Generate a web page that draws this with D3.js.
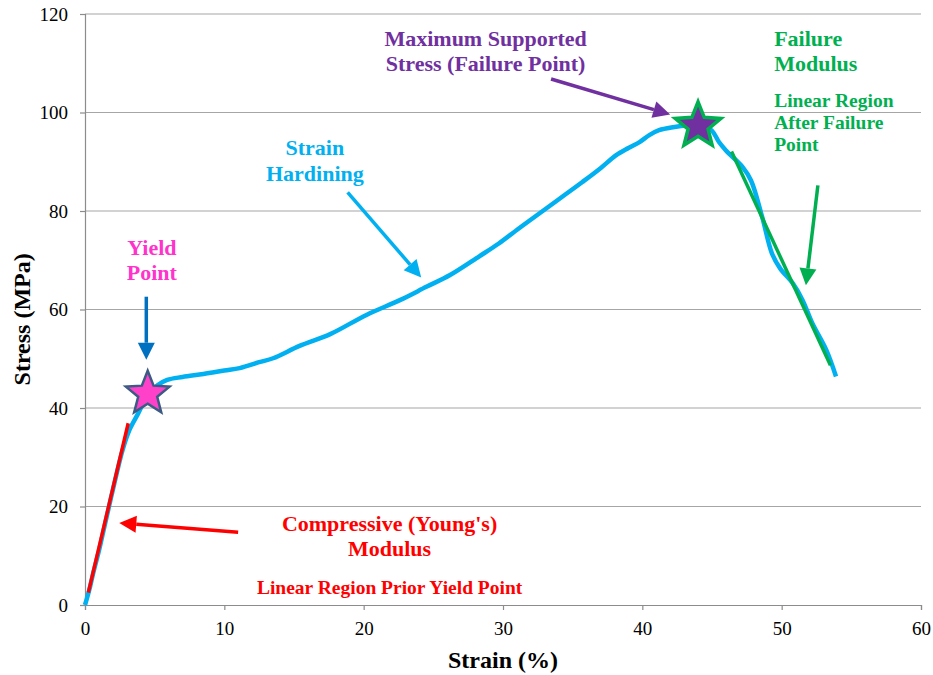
<!DOCTYPE html>
<meta charset="utf-8">

<head>
  <title>stress-strain</title>
</head>

<style>
  body { margin: 0; background: #fff; }
  svg text { font-family: "Liberation Serif", "Times New Roman", Times, serif; }
</style>

<body>
  <div id="content">
    <svg width="933" height="675"></svg>
  </div>

  <script src="https://cdnjs.cloudflare.com/ajax/libs/d3/7.8.5/d3.min.js"></script>

  <script>
    // measured curve (strain %, stress MPa)
    var strain = [0, 0.3, 0.6, 1.0, 1.4, 2.0, 2.7, 3.2, 3.8, 4.5, 5.2, 5.9, 7.0, 8.5, 10.0, 11.1, 12.5, 13.5,
      15.4, 17.6, 20.2, 22.6, 24.5, 26.2, 28.3, 29.7, 31.3, 32.9, 34.3, 35.7, 37.0, 38.1, 39.0, 39.8, 40.5,
      41.2, 42.2, 43.4, 44.3, 45.0, 45.5, 46.0, 47.2, 47.8, 48.6, 49.3, 49.9, 50.8, 51.5, 52.2, 53.2, 53.9];
    var stress = [0, 3, 6.6, 11, 16, 23.4, 31.5, 35.6, 38.8, 42.5, 44.6, 45.7, 46.3, 46.9, 47.6, 48.1, 49.3, 50.1,
      52.6, 55.0, 58.9, 61.9, 64.6, 67.0, 70.8, 73.4, 76.8, 80.1, 83.0, 85.9, 88.7, 91.3, 92.8, 94.0, 95.4,
      96.4, 97.0, 97.4, 97.5, 96.3, 94.0, 92.3, 88.9, 86.2, 78.8, 71.4, 68.3, 65.3, 61.9, 57.2, 51.8, 46.4];

    // fitted linear regions
    var youngLine = [[0.24, 2.5], [3.1, 36.9]];
    var failureLine = [[46.4, 92.1], [53.5, 48.7]];

    // marked points
    var yieldPoint = [4.5, 42.9];
    var failurePoint = [44.0, 97.3];

    var xTicks = [0, 10, 20, 30, 40, 50, 60];
    var yTicks = [0, 20, 40, 60, 80, 100, 120];

    var margin = {top: 14, right: 12, bottom: 70, left: 85},
      width = 933 - margin.left - margin.right,
      height = 675 - margin.top - margin.bottom;

    var svg = d3.select('svg');
    var g = svg.append('g').attr('transform', 'translate(' + margin.left + ',' + margin.top + ')');

    var x = d3.scaleLinear().domain([0, 60]).range([0, width]);
    var y = d3.scaleLinear().domain([0, 120]).range([height, 0]);

    // gridlines
    g.selectAll('.grid')
      .data(yTicks.filter(function(d) { return d > 0; }))
      .enter().append('line')
      .attr('x1', 0).attr('x2', width)
      .attr('y1', function(d) { return y(d); })
      .attr('y2', function(d) { return y(d); })
      .attr('stroke', '#a6a6a6')
      .attr('stroke-width', 1.2);

    var yAxis = g.append('g')
      .call(d3.axisLeft(y).tickValues(yTicks).tickSize(5).tickPadding(12));
    var xAxis = g.append('g')
      .attr('transform', 'translate(0,' + height + ')')
      .call(d3.axisBottom(x).tickValues(xTicks).tickSize(5).tickPadding(12));

    [xAxis, yAxis].forEach(function(a) {
      a.attr('font-family', null);
      a.select('.domain').attr('stroke', '#8c8c8c').attr('stroke-width', 1.2);
      a.selectAll('.tick line').attr('stroke', '#8c8c8c').attr('stroke-width', 1.2);
      a.selectAll('.tick text')
        .style('font-family', '"Liberation Serif", "Times New Roman", serif')
        .style('font-size', '19px')
        .attr('fill', '#000');
    });

    // axis titles
    svg.append('text')
      .attr('x', margin.left + x(30))
      .attr('y', 668)
      .attr('text-anchor', 'middle')
      .style('font-size', '24px')
      .style('font-weight', 'bold')
      .text('Strain (%)');

    svg.append('text')
      .attr('transform', 'translate(30,' + (margin.top + y(58)) + ') rotate(-90)')
      .attr('text-anchor', 'middle')
      .style('font-size', '24px')
      .style('font-weight', 'bold')
      .text('Stress (MPa)');

    // curve
    var pts = strain.map(function(s, i) { return [s, stress[i]]; });
    var line = d3.line()
      .x(function(d) { return x(d[0]); })
      .y(function(d) { return y(d[1]); });

    g.append('path')
      .datum(pts)
      .attr('d', line.curve(d3.curveCatmullRom.alpha(0.5)))
      .attr('fill', 'none')
      .attr('stroke', '#00b0f0')
      .attr('stroke-width', 4.5)
      .attr('stroke-linejoin', 'round');

    line.curve(d3.curveLinear);
    g.append('path').datum(youngLine).attr('d', line)
      .attr('stroke', '#ff0000').attr('stroke-width', 3.5).attr('fill', 'none');
    g.append('path').datum(failureLine).attr('d', line)
      .attr('stroke', '#00b050').attr('stroke-width', 3.5).attr('fill', 'none');

    // stars
    function starPath(r, r2) {
      var p = [];
      for (var i = 0; i < 10; i++) {
        var a = -Math.PI / 2 + i * Math.PI / 5;
        var rr = i % 2 ? r2 : r;
        p.push([rr * Math.cos(a), rr * Math.sin(a)]);
      }
      return 'M' + p.join('L') + 'Z';
    }

    g.append('path')
      .attr('d', starPath(23, 10))
      .attr('transform', 'translate(' + x(yieldPoint[0]) + ',' + y(yieldPoint[1]) + ')')
      .attr('fill', '#ff40c8')
      .attr('stroke', '#3b5b85')
      .attr('stroke-width', 2.5)
      .attr('stroke-linejoin', 'miter');

    g.append('path')
      .attr('d', starPath(24, 10.5))
      .attr('transform', 'translate(' + x(failurePoint[0]) + ',' + y(failurePoint[1]) + ')')
      .attr('fill', '#7030a0')
      .attr('stroke', '#00b050')
      .attr('stroke-width', 3.5)
      .attr('stroke-linejoin', 'miter');

    // annotations
    function arrow(from, to, color) {
      var x1 = x(from[0]), y1 = y(from[1]), x2 = x(to[0]), y2 = y(to[1]);
      var dx = x2 - x1, dy = y2 - y1, len = Math.sqrt(dx * dx + dy * dy);
      var ux = dx / len, uy = dy / len, hl = 17, hw = 8.5;
      var bx = x2 - ux * hl, by = y2 - uy * hl;
      g.append('line')
        .attr('x1', x1).attr('y1', y1).attr('x2', bx).attr('y2', by)
        .attr('stroke', color).attr('stroke-width', 3.5);
      g.append('path')
        .attr('d', 'M' + x2 + ',' + y2 +
          'L' + (bx - uy * hw) + ',' + (by + ux * hw) +
          'L' + (bx + uy * hw) + ',' + (by - ux * hw) + 'Z')
        .attr('fill', color);
    }

    function label(lines, at, color, size, anchor, gap) {
      var t = g.append('text')
        .attr('x', x(at[0]))
        .attr('y', y(at[1]))
        .attr('text-anchor', anchor)
        .attr('fill', color)
        .style('font-size', size + 'px')
        .style('font-weight', 'bold');
      lines.forEach(function(l, i) {
        t.append('tspan').attr('x', x(at[0])).attr('dy', i ? gap : 0).text(l);
      });
    }

    label(['Yield', 'Point'], [4.8, 71.0], '#ff33cc', 22, 'middle', 25);
    arrow([4.4, 62.6], [4.4, 49.8], '#0070c0');

    label(['Strain', 'Hardining'], [16.5, 91.3], '#00b0f0', 22, 'middle', 26);
    arrow([18.85, 83.8], [24.13, 66.5], '#00b0f0');

    label(['Maximum Supported', 'Stress (Failure Point)'], [28.75, 113.6], '#7030a0', 22, 'middle', 25);
    arrow([33.45, 106.8], [42.0, 99.6], '#7030a0');

    label(['Failure', 'Modulus'], [49.46, 113.6], '#00b050', 22, 'start', 25);
    label(['Linear Region', 'After Failure', 'Point'], [49.46, 101.2], '#00b050', 19.5, 'start', 22);
    arrow([52.6, 85.2], [51.74, 64.9], '#00b050');

    label(["Compressive (Young's)", 'Modulus'], [21.86, 14.95], '#ff0000', 22, 'middle', 25);
    label(['Linear Region Prior Yield Point'], [21.86, 2.2], '#ff0000', 19.5, 'middle', 0);
    arrow([10.99, 14.75], [2.46, 16.66], '#ff0000');
  </script>
</body>

</html>
